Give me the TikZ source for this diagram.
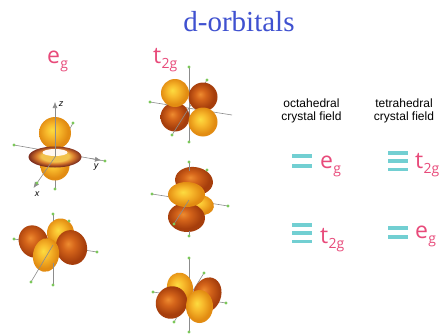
\documentclass[tikz,border=0pt]{standalone}
\usepackage{fontspec}
\setmainfont{Liberation Serif}
\newfontfamily\labelfont{Open Sans}
\newfontfamily\notefont{Liberation Sans}
\usetikzlibrary{arrows.meta}

\definecolor{titleblue}{HTML}{3F51D0}
\definecolor{labelpink}{HTML}{E84A7A}
\definecolor{leveltea}{HTML}{72CFD2}
\definecolor{axisgray}{HTML}{8C8C8C}
\definecolor{dotgreen}{HTML}{7CC85A}
\definecolor{yA}{HTML}{FCDC40}
\definecolor{yB}{HTML}{F8BA2C}
\definecolor{yC}{HTML}{E28C12}
\definecolor{oA}{HTML}{EE8C30}
\definecolor{oB}{HTML}{D4641A}
\definecolor{oC}{HTML}{A63E0C}
\definecolor{tA}{HTML}{F2C24C}
\definecolor{tB}{HTML}{D6782C}
\definecolor{tC}{HTML}{7A2A1C}

% sphere-like lobe shadings with a highlight towards the upper left
% (the path's bounding box covers the shading's central 50bp square)
\pgfdeclareradialshading{yellowlobe}{\pgfpoint{-5bp}{5bp}}{color(0bp)=(yA); color(10bp)=(yB); color(23bp)=(yC); color(50bp)=(yC)}
\pgfdeclareradialshading{orangelobe}{\pgfpoint{-5bp}{5bp}}{color(0bp)=(oA); color(9bp)=(oB); color(22bp)=(oC); color(50bp)=(oC)}
\pgfdeclareradialshading{torusring}{\pgfpoint{0bp}{3bp}}{color(0bp)=(tA); color(13bp)=(tA); color(18bp)=(tB); color(25bp)=(tC); color(50bp)=(tC)}

% one lobe: type, x, y, x radius, y radius, rotation
\newcommand\orbLobe[6]{\shade[shading=#1lobe] (#2,#3) ellipse [x radius=#4, y radius=#5, rotate=#6];}
% lowered subscript of the symmetry labels
\newcommand\symsub[1]{\kern0.3pt\raisebox{-5pt}{\fontsize{14}{14}\selectfont #1}}

\tikzset{
  axisline/.style={draw=axisgray, line width=0.6pt},
  gdot/.style={fill=dotgreen, draw=none},
  heading/.style={font=\fontsize{29}{32}\selectfont, text=titleblue, inner sep=0pt},
  symlabel/.style={font=\labelfont\fontsize{23}{26}\selectfont, text=labelpink, inner sep=0pt, anchor=base west},
  fieldnote/.style={font=\notefont\fontsize{12}{13}\selectfont, align=center, inner sep=0pt},
  levelbar/.style={draw=leveltea, line width=3.2pt},
  axislabel/.style={font=\notefont\itshape\fontsize{9}{10}\selectfont, inner sep=0pt}
}

\newcommand\gdots[1]{\foreach \p in {#1} \fill[gdot] \p circle (1.7);}

\begin{document}
\begin{tikzpicture}[x=1pt,y=1pt]
\useasboundingbox (0,0) rectangle (439,333);
\fill[white] (0,0) rectangle (439,333);

% ---------- headings ----------
\node[heading] (title) at (239,311) {d-orbitals};
\node[symlabel] (egtop) at (47,270) {e\symsub{g}};
\node[symlabel] (ttop) at (153,270) {t\symsub{2g}};

\node[fieldnote] (octa) at (311.5,222) {octahedral\\crystal field};
\node[fieldnote] (tetra) at (404,222) {tetrahedral\\crystal field};

% ---------- d_z2 ----------
\coordinate (zc) at (55,176);
\draw[axisline] (14,188) -- (105,172);
\draw[axisline] (zc) -- (73,210);
\draw[axisline] (zc) -- (55,144);
\orbLobe{yellow}{55}{167}{14.5}{14.5}{0}
\orbLobe{yellow}{55}{200}{16}{16}{0}
\shade[shading=torusring] (zc) ellipse [x radius=26.5, y radius=10.5];
\fill[white!94!orange] (55,180.5) ellipse [x radius=12.5, y radius=3.5];
\draw[axisline] (zc) -- (37,150);
\draw[axisline, -{Latex[length=6pt,width=5pt]}] (zc) -- (55,231);
\draw[axisline, -{Latex[length=6pt,width=5pt]}] (37,150) -- (33.5,145);
\draw[axisline, -{Latex[length=6pt,width=5pt]}] (90,174.6) -- (101,172.7);
\gdots{(14,188),(73,210),(105,172),(55,144),(37,150)}
\node[axislabel] (zlab) at (61,229) {z};
\node[axislabel] (ylab) at (96,166) {y};
\node[axislabel] (xlab) at (37,139) {x};

% ---------- d_x2-y2 ----------
\coordinate (xc) at (53,88);
\draw[axisline] (53,119) -- (53,48);
\draw[axisline] (14,94) -- (97,81);
\draw[axisline] (xc) -- (69,112);
\orbLobe{yellow}{60.5}{100}{13.5}{14.5}{0}
\orbLobe{orange}{33.5}{91.5}{14.5}{16.5}{25}
\orbLobe{orange}{71.5}{85.5}{15.5}{17.5}{15}
\orbLobe{yellow}{46}{78}{13}{17}{-10}
\draw[axisline] (xc) -- (31,51);
\draw[axisline] (53,70) -- (53,48);
\gdots{(53,119),(69,112),(14,94),(97,81),(31,51),(53,48)}

% ---------- t2g, upper ----------
\coordinate (ac) at (189,225);
\draw[axisline] (189,266) -- (189,191);
\draw[axisline] (150,231) -- (232,218);
\draw[axisline] (ac) -- (207,253);
\orbLobe{orange}{203}{236}{14.5}{14.5}{0}
\orbLobe{orange}{175}{216}{14.5}{14.5}{0}
\orbLobe{yellow}{175}{240}{14}{14}{0}
\orbLobe{yellow}{203}{211}{14.5}{14.5}{0}
\draw[axisline] (ac) -- (172,198);
\gdots{(189,266),(189,191),(150,231),(207,253),(172,198)}

% ---------- t2g, middle ----------
\coordinate (bc) at (189,133);
\draw[axisline] (189,171) -- (189,97);
\draw[axisline] (152,139) -- (228,127);
\draw[axisline] (bc) -- (207,163);
\orbLobe{orange}{194}{152}{19}{14}{-8}
\orbLobe{yellow}{201}{128}{13}{10}{-10}
\orbLobe{orange}{186.5}{115.5}{18.5}{14.5}{-5}
\orbLobe{yellow}{186.5}{138.5}{18.5}{12.5}{0}
\draw[axisline] (bc) -- (174,109);
\draw[axisline] (189,171) -- (189,162);
\draw[axisline] (189,102) -- (189,97);
\gdots{(189,171),(207,163),(152,139),(228,127),(174,109),(189,97)}

% ---------- t2g, lower ----------
\coordinate (cc) at (189,36);
\draw[axisline] (189,75) -- (189,0);
\draw[axisline] (153,41) -- (226,30);
\draw[axisline] (cc) -- (204,60);
\draw[axisline] (cc) -- (174,11);
\orbLobe{yellow}{180}{45}{13}{15.5}{10}
\orbLobe{orange}{207}{38}{14}{18}{-20}
\orbLobe{orange}{171.5}{30.5}{15.5}{16.5}{-30}
\orbLobe{yellow}{199.5}{26.5}{13.5}{16.5}{0}
\draw[axisline] (189,11) -- (189,0);
\gdots{(189,75),(204,60),(153,41),(226,30),(174,11),(189,1)}

% ---------- level diagrams ----------
% octahedral: e_g above t_2g
\draw[levelbar] (292,177) coordinate (o1a) -- (312,177) coordinate (o1b);
\draw[levelbar] (292,167) coordinate (o2a) -- (312,167) coordinate (o2b);
\node[symlabel] (oeg) at (320,165) {e\symsub{g}};
\draw[levelbar] (292,108) coordinate (o3a) -- (312,108) coordinate (o3b);
\draw[levelbar] (292,100) coordinate (o4a) -- (312,100) coordinate (o4b);
\draw[levelbar] (292,91.5) coordinate (o5a) -- (312,91.5) coordinate (o5b);
\node[symlabel] (ot) at (320,90) {t\symsub{2g}};
% tetrahedral: t_2g above e_g
\draw[levelbar] (388,180) coordinate (t1a) -- (408,180) coordinate (t1b);
\draw[levelbar] (388,172) coordinate (t2a) -- (408,172) coordinate (t2b);
\draw[levelbar] (388,163.5) coordinate (t3a) -- (408,163.5) coordinate (t3b);
\node[symlabel] (tt) at (415,165) {t\symsub{2g}};
\draw[levelbar] (388,105) coordinate (t4a) -- (408,105) coordinate (t4b);
\draw[levelbar] (388,96) coordinate (t5a) -- (408,96) coordinate (t5b);
\node[symlabel] (teg) at (415,95) {e\symsub{g}};
\end{tikzpicture}
\end{document}
